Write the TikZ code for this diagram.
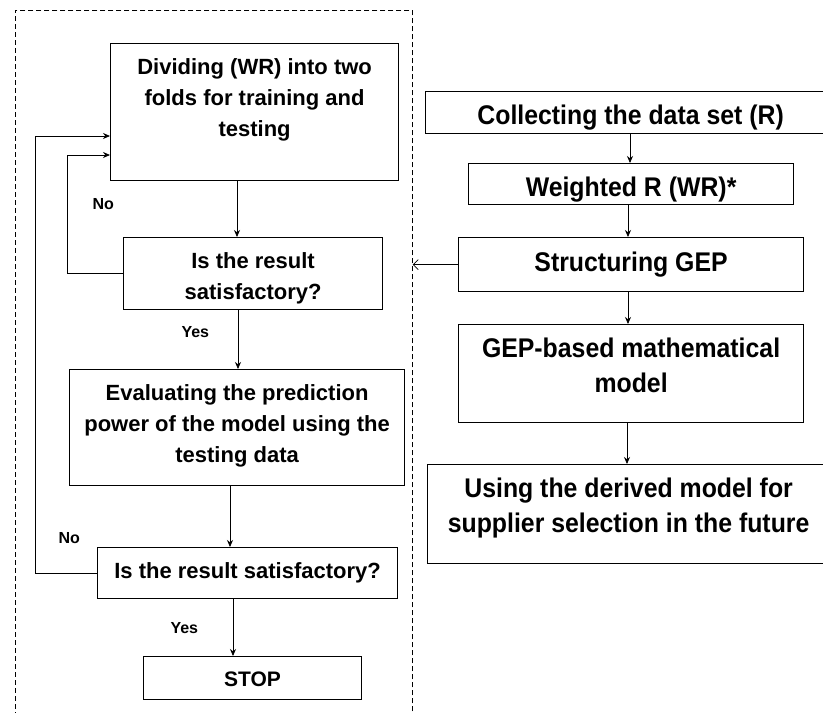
\documentclass[tikz,border=0pt]{standalone}
\usepackage{fontspec}
\setmainfont{Liberation Sans}
\usetikzlibrary{arrows.meta}

\newcommand{\boxtxt}[4][30.8pt]{\parbox[t][#3][t]{#2}{\centering\rule{0pt}{#1}#4}}

\tikzset{
	flowbox/.style={draw, line width=1.2pt, inner sep=0pt, anchor=north west},
	leftfont/.style={font=\bfseries\fontsize{22}{30.8}\selectfont},
	rightfont/.style={font=\bfseries\fontsize{27}{35}\selectfont\addfontfeatures{FakeStretch=0.92}},
	arr/.style={-{Stealth[length=7pt,width=6pt]}, line width=0.8pt},
	answer/.style={font=\bfseries\fontsize{16}{19}\selectfont, anchor=base west}
}

\begin{document}
\begin{tikzpicture}[x=1pt, y=-1pt]

		\useasboundingbox (0,0) rectangle (823,713);
		\fill[white] (0,0) rectangle (823,713);

		% training / testing group
		\node[draw, dash pattern=on 5pt off 3pt, line width=0.7pt, inner sep=0pt, anchor=north west,
			minimum width=397pt, minimum height=720pt] (group) at (15,10) {};

		\node[flowbox, leftfont] (divide) at (110,43)
			{\boxtxt{288pt}{137pt}{Dividing (WR) into two\\folds for training and\\testing}};
		\node[flowbox, leftfont] (check1) at (123,237)
			{\boxtxt{259pt}{72pt}{Is the result\\satisfactory?}};
		\node[flowbox, leftfont] (evaluate) at (69,369)
			{\boxtxt{335pt}{116pt}{Evaluating the prediction\\power of the model using the\\testing data}};
		\node[flowbox, leftfont] (check2) at (97,547)
			{\boxtxt{300pt}{51pt}{Is the result satisfactory?}};
		\node[flowbox, font=\bfseries\fontsize{21}{29}\selectfont] (stop) at (143,656)
			{\boxtxt[30pt]{218pt}{43pt}{STOP}};

		\node[flowbox, rightfont] (collect) at (425,91)
			{\boxtxt[32.5pt]{410pt}{42pt}{Collecting the data set (R)}};
		\node[flowbox, rightfont] (weight) at (468,163)
			{\boxtxt[33pt]{325pt}{41pt}{Weighted R (WR)*}};
		\node[flowbox, rightfont] (gep) at (458,237)
			{\boxtxt[33.5pt]{345pt}{54pt}{Structuring GEP}};
		\node[flowbox, rightfont] (model) at (458,324)
			{\boxtxt[33pt]{345pt}{98pt}{GEP-based mathematical\\model}};
		\node[flowbox, rightfont] (use) at (427,464)
			{\boxtxt[33pt]{402pt}{99pt}{Using the derived model for\\supplier selection in the future}};

		\node[answer] (no1) at (89,209) {No};
		\node[answer] (yes1) at (178,337) {Yes};
		\node[answer] (no2) at (55,543) {No};
		\node[answer] (yes2) at (167,633) {Yes};

		\draw[arr] (divide.south -| 237,0) -- (check1.north -| 237,0);
		\draw[arr] (check1.south -| 238,0) -- (evaluate.north -| 238,0);
		\draw[arr] (evaluate.south -| 230,0) -- (check2.north -| 230,0);
		\draw[arr] (check2.south -| 233,0) -- (stop.north -| 233,0);

		\draw[arr] (check1.west) -- (check1.west -| 67,0) |- (divide.west |- 0,155);
		\draw[arr] (check2.west) -- (check2.west -| 35,0) |- (divide.west |- 0,136);

		\draw[arr] (collect.south -| 630,0) -- (weight.north -| 630,0);
		\draw[arr] (weight.south -| 628,0) -- (gep.north -| 628,0);
		\draw[arr] (gep.south -| 628,0) -- (model.north -| 628,0);
		\draw[arr] (model.south -| 627,0) -- (use.north -| 627,0);

		\draw[-{Straight Barb[length=5pt,width=10pt]}, line width=0.8pt] (gep.west) -- (gep.west -| group.east);

	\end{tikzpicture}
\end{document}
